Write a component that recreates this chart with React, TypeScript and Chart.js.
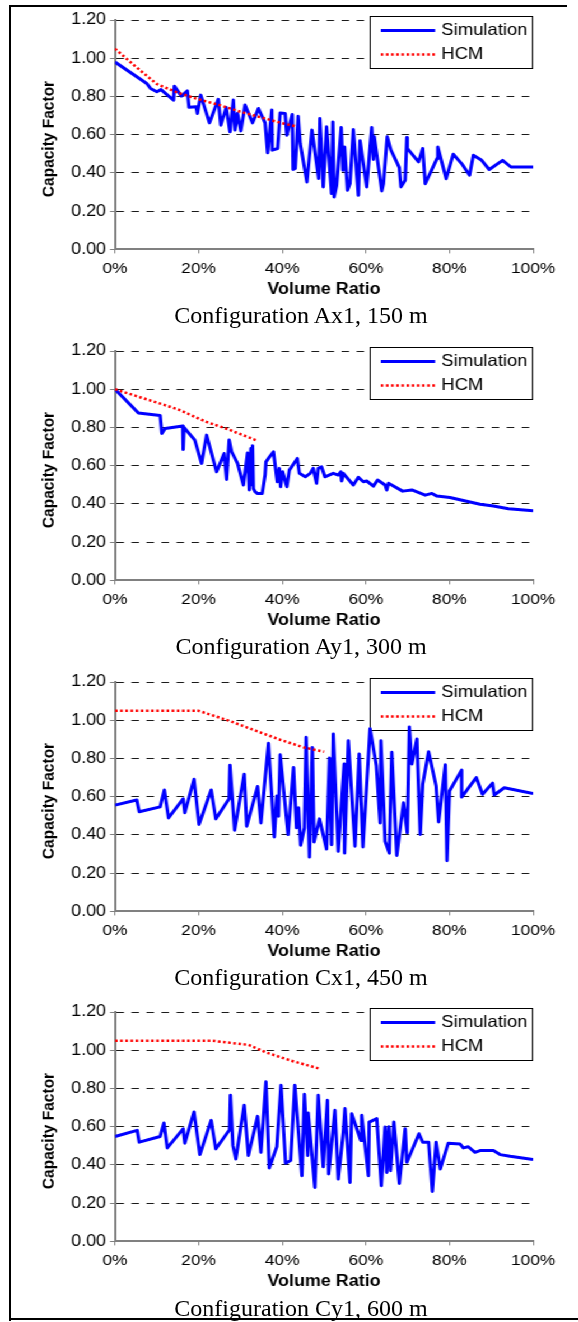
import React, { useEffect, useRef } from "react";
import { Chart, registerables } from "chart.js";

Chart.register(...registerables);

// ---------- DATA ----------
const ax1SimX = [0, 0.076, 0.085, 0.10, 0.11, 0.14, 0.142, 0.159, 0.173, 0.177, 0.194, 0.197, 0.205, 0.226, 0.247, 0.253, 0.266, 0.275, 0.283, 0.287, 0.293, 0.301, 0.311, 0.329, 0.343, 0.359, 0.365, 0.375, 0.376, 0.389, 0.395, 0.407, 0.411, 0.424, 0.426, 0.431, 0.438, 0.443, 0.459, 0.471, 0.487, 0.490, 0.498, 0.506, 0.518, 0.521, 0.524, 0.530, 0.541, 0.545, 0.549, 0.556, 0.562, 0.570, 0.582, 0.586, 0.602, 0.614, 0.618, 0.620, 0.638, 0.642, 0.651, 0.660, 0.680, 0.684, 0.694, 0.698, 0.699, 0.726, 0.736, 0.742, 0.770, 0.772, 0.792, 0.809, 0.829, 0.848, 0.857, 0.877, 0.895, 0.927, 0.947, 1.0];
const ax1SimY = [0.98, 0.868, 0.842, 0.825, 0.836, 0.781, 0.854, 0.802, 0.830, 0.743, 0.746, 0.711, 0.807, 0.662, 0.785, 0.650, 0.743, 0.615, 0.781, 0.624, 0.711, 0.620, 0.755, 0.662, 0.737, 0.662, 0.505, 0.729, 0.519, 0.528, 0.714, 0.711, 0.597, 0.706, 0.418, 0.423, 0.697, 0.554, 0.353, 0.624, 0.371, 0.685, 0.327, 0.641, 0.292, 0.667, 0.274, 0.335, 0.638, 0.414, 0.536, 0.309, 0.344, 0.627, 0.283, 0.568, 0.327, 0.638, 0.470, 0.589, 0.306, 0.344, 0.589, 0.519, 0.428, 0.327, 0.362, 0.585, 0.528, 0.458, 0.528, 0.344, 0.475, 0.536, 0.370, 0.498, 0.449, 0.388, 0.493, 0.466, 0.418, 0.466, 0.431, 0.431];
const ax1HcmX = [0, 0.05, 0.10, 0.15, 0.20, 0.25, 0.30, 0.35, 0.40, 0.43];
const ax1HcmY = [1.05, 0.955, 0.865, 0.82, 0.785, 0.755, 0.72, 0.69, 0.66, 0.645];

const ay1SimX = [0, 0.056, 0.108, 0.112, 0.120, 0.162, 0.163, 0.165, 0.191, 0.207, 0.219, 0.243, 0.261, 0.267, 0.273, 0.279, 0.293, 0.307, 0.317, 0.321, 0.325, 0.327, 0.329, 0.331, 0.335, 0.340, 0.352, 0.359, 0.361, 0.367, 0.379, 0.388, 0.393, 0.396, 0.401, 0.411, 0.417, 0.436, 0.441, 0.455, 0.467, 0.474, 0.482, 0.486, 0.494, 0.502, 0.522, 0.534, 0.540, 0.542, 0.546, 0.570, 0.582, 0.594, 0.602, 0.618, 0.628, 0.646, 0.650, 0.654, 0.688, 0.710, 0.742, 0.758, 0.770, 0.801, 0.873, 0.905, 0.941, 1.0];
const ay1SimY = [1.0, 0.876, 0.863, 0.769, 0.795, 0.808, 0.685, 0.80, 0.734, 0.612, 0.760, 0.568, 0.664, 0.528, 0.734, 0.673, 0.612, 0.499, 0.667, 0.473, 0.69, 0.50, 0.704, 0.48, 0.464, 0.455, 0.455, 0.551, 0.620, 0.638, 0.673, 0.516, 0.586, 0.490, 0.568, 0.490, 0.577, 0.638, 0.560, 0.542, 0.560, 0.586, 0.508, 0.586, 0.594, 0.542, 0.560, 0.551, 0.568, 0.520, 0.560, 0.499, 0.539, 0.516, 0.520, 0.493, 0.525, 0.499, 0.473, 0.508, 0.467, 0.473, 0.446, 0.455, 0.441, 0.434, 0.398, 0.389, 0.375, 0.364];
const ay1HcmX = [0, 0.05, 0.108, 0.15, 0.219, 0.271, 0.30, 0.337];
const ay1HcmY = [1.0, 0.965, 0.925, 0.895, 0.829, 0.790, 0.765, 0.734];

const cx1SimX = [0, 0.052, 0.058, 0.108, 0.118, 0.128, 0.163, 0.167, 0.189, 0.201, 0.230, 0.241, 0.273, 0.275, 0.286, 0.309, 0.315, 0.341, 0.349, 0.367, 0.381, 0.387, 0.391, 0.395, 0.414, 0.427, 0.434, 0.439, 0.444, 0.453, 0.457, 0.465, 0.472, 0.476, 0.489, 0.506, 0.513, 0.518, 0.522, 0.534, 0.548, 0.549, 0.558, 0.574, 0.584, 0.593, 0.610, 0.625, 0.634, 0.636, 0.646, 0.656, 0.662, 0.674, 0.690, 0.699, 0.704, 0.710, 0.722, 0.730, 0.736, 0.750, 0.768, 0.774, 0.790, 0.794, 0.800, 0.829, 0.829, 0.864, 0.879, 0.903, 0.907, 0.931, 1.0];
const cx1SimY = [0.556, 0.583, 0.521, 0.547, 0.635, 0.489, 0.589, 0.516, 0.691, 0.455, 0.635, 0.484, 0.589, 0.765, 0.425, 0.718, 0.446, 0.653, 0.463, 0.879, 0.389, 0.604, 0.498, 0.819, 0.402, 0.753, 0.437, 0.542, 0.346, 0.437, 0.911, 0.284, 0.858, 0.363, 0.484, 0.326, 0.802, 0.349, 0.928, 0.314, 0.771, 0.305, 0.893, 0.341, 0.823, 0.337, 0.955, 0.762, 0.463, 0.893, 0.367, 0.305, 0.832, 0.293, 0.568, 0.411, 0.965, 0.771, 0.902, 0.402, 0.665, 0.835, 0.656, 0.468, 0.767, 0.265, 0.630, 0.739, 0.598, 0.700, 0.613, 0.671, 0.609, 0.647, 0.616];
const cx1HcmX = [0, 0.10, 0.199, 0.272, 0.343, 0.395, 0.451, 0.50];
const cx1HcmY = [1.05, 1.05, 1.05, 0.998, 0.94, 0.898, 0.858, 0.835];

const cy1SimX = [0, 0.053, 0.058, 0.108, 0.117, 0.125, 0.163, 0.167, 0.189, 0.203, 0.230, 0.241, 0.274, 0.276, 0.282, 0.289, 0.309, 0.319, 0.341, 0.349, 0.361, 0.369, 0.387, 0.397, 0.408, 0.420, 0.430, 0.447, 0.453, 0.461, 0.462, 0.478, 0.486, 0.498, 0.508, 0.511, 0.526, 0.534, 0.546, 0.550, 0.562, 0.566, 0.588, 0.590, 0.606, 0.608, 0.626, 0.637, 0.646, 0.650, 0.655, 0.659, 0.667, 0.680, 0.694, 0.698, 0.727, 0.736, 0.750, 0.759, 0.768, 0.778, 0.797, 0.825, 0.833, 0.845, 0.861, 0.873, 0.905, 0.921, 0.945, 1.0];
const cy1SimY = [0.549, 0.581, 0.519, 0.549, 0.619, 0.489, 0.589, 0.514, 0.677, 0.454, 0.633, 0.484, 0.584, 0.765, 0.502, 0.431, 0.712, 0.449, 0.654, 0.466, 0.835, 0.384, 0.496, 0.817, 0.409, 0.423, 0.817, 0.344, 0.770, 0.449, 0.672, 0.282, 0.765, 0.390, 0.738, 0.353, 0.686, 0.326, 0.572, 0.695, 0.308, 0.668, 0.528, 0.660, 0.344, 0.624, 0.642, 0.291, 0.598, 0.361, 0.600, 0.370, 0.624, 0.303, 0.589, 0.414, 0.563, 0.519, 0.519, 0.261, 0.519, 0.379, 0.514, 0.510, 0.489, 0.495, 0.466, 0.475, 0.475, 0.454, 0.445, 0.428];
const cy1HcmX = [0, 0.10, 0.231, 0.319, 0.363, 0.422, 0.487];
const cy1HcmY = [1.05, 1.05, 1.05, 1.028, 0.987, 0.945, 0.905];

const captions = [
  "Configuration Ax1, 150 m",
  "Configuration Ay1, 300 m",
  "Configuration Cx1, 450 m",
  "Configuration Cy1, 600 m",
];
const seriesNames = ["Simulation", "HCM"];
const xAxisTitle = "Volume Ratio";
const yAxisTitle = "Capacity Factor";
const yMin = 0;
const yMax = 1.2;
const yStep = 0.2;
const xMin = 0;
const xMax = 1;
const xStep = 0.2;

const panels = [
  { simX: ax1SimX, simY: ax1SimY, hcmX: ax1HcmX, hcmY: ax1HcmY },
  { simX: ay1SimX, simY: ay1SimY, hcmX: ay1HcmX, hcmY: ay1HcmY },
  { simX: cx1SimX, simY: cx1SimY, hcmX: cx1HcmX, hcmY: cx1HcmY },
  { simX: cy1SimX, simY: cy1SimY, hcmX: cy1HcmX, hcmY: cy1HcmY },
];

// ---------- STYLE / LAYOUT ----------
const SX = 1.12; // horizontal stretch of the figure
const SANS = "'Liberation Sans', Arial, sans-serif";
const SERIF = "'Liberation Serif', 'Times New Roman', serif";
const BLUE = "#0000ff";
const RED = "#ff0000";
const PAD_RIGHT = 30;
const CANVAS_W = 466 + PAD_RIGHT;
const CANVAS_H = 297;
const PANEL_STEP = 330.8;

function Panel({ simX, simY, hcmX, hcmY }: { simX: number[]; simY: number[]; hcmX: number[]; hcmY: number[] }) {
  const ref = useRef<HTMLCanvasElement | null>(null);
  useEffect(() => {
    if (!ref.current) return;
    const legendPlugin = {
      id: "boxLegend",
      beforeDatasetsDraw(chart: any) {
        const { ctx, chartArea } = chart;
        const w = 146;
        const h = 53;
        const x = Math.round(chartArea.right - w);
        const y = Math.round(chartArea.top - 4);
        ctx.save();
        ctx.fillStyle = "#fff";
        ctx.fillRect(x, y, w, h);
        ctx.strokeStyle = "#000";
        ctx.lineWidth = 1;
        ctx.strokeRect(x + 0.5, y + 0.5, w - 1, h - 1);
        const rows = [y + 14.5, y + 38.5];
        ctx.beginPath();
        ctx.strokeStyle = BLUE;
        ctx.lineWidth = 3;
        ctx.setLineDash([]);
        ctx.moveTo(x + 10, rows[0]);
        ctx.lineTo(x + 58.5, rows[0]);
        ctx.stroke();
        ctx.beginPath();
        ctx.strokeStyle = RED;
        ctx.lineWidth = 2.5;
        ctx.setLineDash([2.3, 2.3]);
        ctx.moveTo(x + 10, rows[1]);
        ctx.lineTo(x + 58.5, rows[1]);
        ctx.stroke();
        ctx.setLineDash([]);
        ctx.fillStyle = "#000";
        ctx.font = `16.5px ${SANS}`;
        ctx.textBaseline = "middle";
        ctx.textAlign = "left";
        ctx.fillText(seriesNames[0], x + 64, rows[0]);
        ctx.fillText(seriesNames[1], x + 64, rows[1]);
        ctx.restore();
      },
    };

    const chart = new Chart(ref.current, {
      type: "line",
      data: {
        datasets: [
          {
            label: seriesNames[0],
            data: simX.map((x, i) => ({ x, y: simY[i] })),
            borderColor: BLUE,
            backgroundColor: BLUE,
            borderWidth: 3,
            pointRadius: 0,
            tension: 0,
            borderJoinStyle: "round",
            fill: false,
            order: 2,
          },
          {
            label: seriesNames[1],
            data: hcmX.map((x, i) => ({ x, y: hcmY[i] })),
            borderColor: RED,
            backgroundColor: RED,
            borderWidth: 2.5,
            borderDash: [2.3, 2.3],
            borderCapStyle: "butt",
            pointRadius: 0,
            tension: 0,
            fill: false,
            order: 1,
          },
        ],
      },
      options: {
        responsive: false,
        animation: false,
        devicePixelRatio: 1,
        layout: { padding: { left: 20.45, right: PAD_RIGHT, top: 14, bottom: 0 } },
        plugins: {
          legend: { display: false },
          tooltip: { enabled: false },
          title: { display: false },
        },
        scales: {
          x: {
            type: "linear",
            min: xMin,
            max: xMax,
            afterFit: (scale: any) => {
              scale.height = 53.6;
            },
            ticks: {
              stepSize: xStep,
              padding: 6,
              color: "#000",
              font: { family: SANS, size: 15.5 },
              maxRotation: 0,
              callback: (v: any) => `${Math.round(Number(v) * 100)}%`,
            },
            grid: {
              display: true,
              drawOnChartArea: false,
              drawTicks: true,
              tickLength: 4,
              tickColor: "#808080",
              tickWidth: 1,
            },
            border: { display: true, color: "#808080", width: 2 },
            title: {
              display: true,
              text: xAxisTitle,
              color: "#000",
              font: { family: SANS, size: 16, weight: "bold" },
              padding: { top: 4, bottom: 4 },
            },
          },
          y: {
            type: "linear",
            min: yMin,
            max: yMax,
            afterFit: (scale: any) => {
              scale.width = 72.23;
            },
            ticks: {
              stepSize: yStep,
              padding: 3.5,
              color: "#000",
              font: { family: SANS, size: 16 },
              callback: (v: any) => Number(v).toFixed(2),
            },
            grid: {
              display: true,
              drawOnChartArea: true,
              drawTicks: true,
              color: "#1a1a1a",
              lineWidth: 1,
              tickLength: 4.5,
              tickColor: "#808080",
              tickWidth: 1,
              tickBorderDash: [],
            },
            border: { display: true, color: "#808080", width: 2, dash: [6.7, 6.7] },
            title: {
              display: true,
              text: yAxisTitle + "  ",
              color: "#000",
              font: { family: SANS, size: 15.5, weight: "bold" },
              padding: { top: 4, bottom: 4 },
            },
          },
        },
      },
      plugins: [legendPlugin],
    } as any);
    return () => chart.destroy();
  }, [simX, simY, hcmX, hcmY]);
  return <canvas ref={ref} width={CANVAS_W} height={CANVAS_H} style={{ display: "block", width: CANVAS_W, height: CANVAS_H }} />;
}

export default function App() {
  return (
    <div style={{ position: "absolute", left: 0, top: 0, width: 578, height: 1322, overflow: "hidden", background: "#fff" }}>
      <div style={{ position: "absolute", left: 9, top: 5, width: 2, height: 1316, background: "#000" }} />
      <div style={{ position: "absolute", left: 9, top: 5, width: 558, height: 2, background: "#000" }} />
      <div style={{ position: "absolute", left: 9, top: 1318, width: 569, height: 2, background: "#000" }} />
      <div
        style={{
          position: "absolute",
          left: 0,
          top: 0,
          width: 578 / SX,
          height: 1322,
          transform: `scaleX(${SX})`,
          transformOrigin: "0 0",
        }}
      >
        {panels.map((p, i) => (
          <div key={i} style={{ position: "absolute", left: 10, top: Math.round(6 + PANEL_STEP * i) }}>
            <Panel simX={p.simX} simY={p.simY} hcmX={p.hcmX} hcmY={p.hcmY} />
          </div>
        ))}
      </div>
      {captions.map((c, i) => (
        <div
          key={i}
          style={{
            position: "absolute",
            left: 0,
            width: 602,
            top: Math.round(303.2 + PANEL_STEP * i),
            textAlign: "center",
            fontFamily: SERIF,
            fontSize: 24,
            lineHeight: "24px",
            whiteSpace: "nowrap",
            color: "#000",
          }}
        >
          {c}
        </div>
      ))}
    </div>
  );
}
